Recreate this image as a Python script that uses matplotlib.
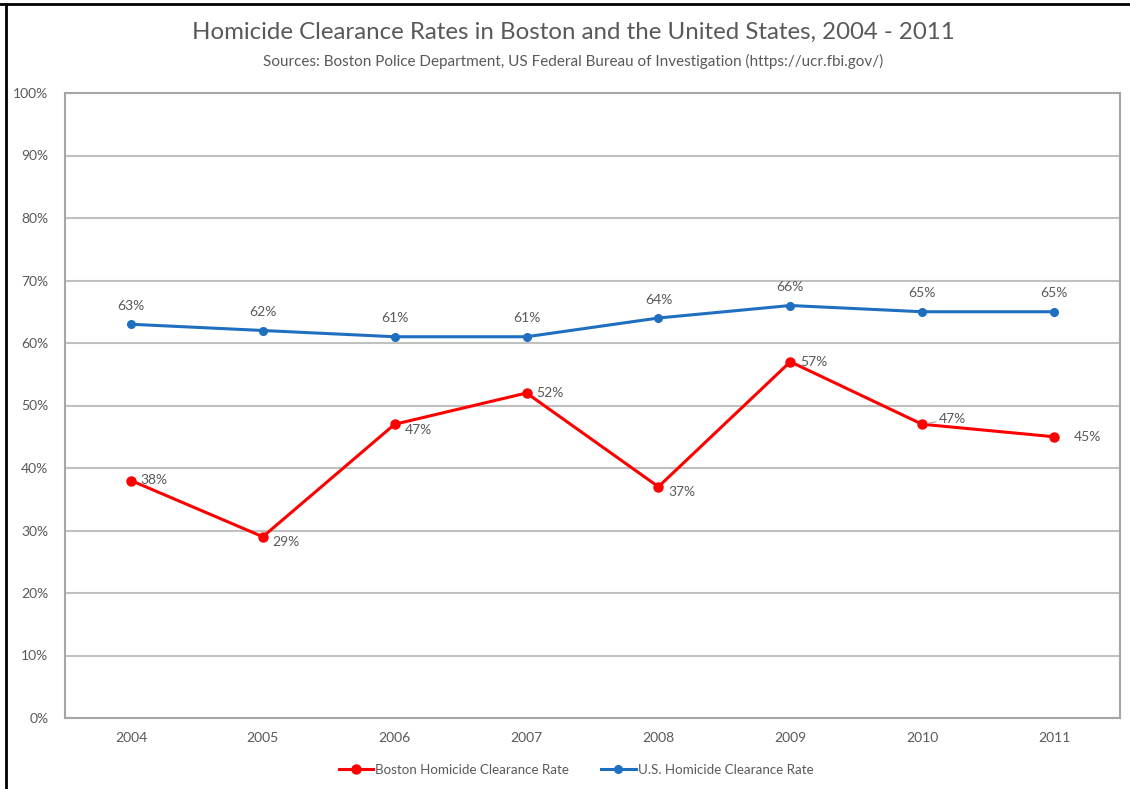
import matplotlib.pyplot as plt
from matplotlib.lines import Line2D

years = ['2004', '2005', '2006', '2007', '2008', '2009', '2010', '2011']
boston = [38, 29, 47, 52, 37, 57, 47, 45]
us = [63, 62, 61, 61, 64, 66, 65, 65]

plt.rcParams['font.family'] = ['Lato', 'DejaVu Sans']
grey = '#595959'

fig = plt.figure(figsize=(11.3, 7.89), dpi=100)
ax = fig.add_axes([65 / 1130, 1 - 718 / 789, (1120 - 65) / 1130, (718 - 93) / 789])

x = list(range(len(years)))
ax.plot(x, boston, color='#ff0000', lw=2.2, marker='o', ms=6.5,
        label='Boston Homicide Clearance Rate', zorder=3)
ax.plot(x, us, color='#1f6fc0', lw=2.2, marker='o', ms=5.5,
        label='U.S. Homicide Clearance Rate', zorder=3)

# etiketler
for i, v in enumerate(us):
    ax.annotate(f'{v}%', (i, v), xytext=(0, 9), textcoords='offset points',
                ha='center', va='bottom', fontsize=10, color=grey)
for i, v in enumerate(boston):
    dy = -4
    if i in (0, 3, 5):
        dy = 0
    if i == 6:
        ax.annotate(f'{v}%', (i, v), xytext=(12, 4), textcoords='offset points',
                    ha='left', va='center', fontsize=10, color=grey,
                    arrowprops=dict(arrowstyle='-', color='#a6a6a6', lw=0.8,
                                    shrinkA=0, shrinkB=4))
        continue
    if i == 7:
        ax.annotate(f'{v}%', (i, v), xytext=(14, 0), textcoords='offset points',
                    ha='left', va='center', fontsize=10, color=grey)
        continue
    ax.annotate(f'{v}%', (i, v), xytext=(7, dy), textcoords='offset points',
                ha='left', va='center', fontsize=10, color=grey)

ax.set_xlim(-0.5, len(years) - 0.5)
ax.set_ylim(0, 100)
ax.set_yticks(range(0, 101, 10))
ax.set_yticklabels([f'{t}%' for t in range(0, 101, 10)])
ax.set_xticks(x)
ax.set_xticklabels(years)
ax.tick_params(axis='both', length=0, labelsize=10, colors=grey)
ax.tick_params(axis='y', pad=12)
ax.tick_params(axis='x', pad=10)
ax.grid(axis='y', color='#c0c0c0', lw=1.5)
ax.set_axisbelow(True)
for s in ax.spines.values():
    s.set_color('#a6a6a6')
    s.set_linewidth(1.5)

fig.text(573 / 1130, 1 - 32 / 789, 'Homicide Clearance Rates in Boston and the United States, 2004 - 2011',
         ha='center', va='center', fontsize=17.3, color=grey)
fig.text(573 / 1130, 1 - 61 / 789,
         'Sources: Boston Police Department, US Federal Bureau of Investigation (https://ucr.fbi.gov/)',
         ha='center', va='center', fontsize=11, color=grey)

fig.legend(loc='center', bbox_to_anchor=(576 / 1130, 1 - 770 / 789), ncol=2,
           frameon=False, fontsize=9.6, labelcolor=grey, handlelength=2.6,
           handletextpad=0.15, columnspacing=2.4)

# çerçeve
fig.add_artist(Line2D([0, 1], [1 - 4 / 789, 1 - 4 / 789], color='black', lw=2,
                      transform=fig.transFigure))
fig.add_artist(Line2D([6 / 1130, 6 / 1130], [0, 1 - 4 / 789], color='black', lw=2,
                      transform=fig.transFigure))

fig.savefig('out.png', dpi=100)
